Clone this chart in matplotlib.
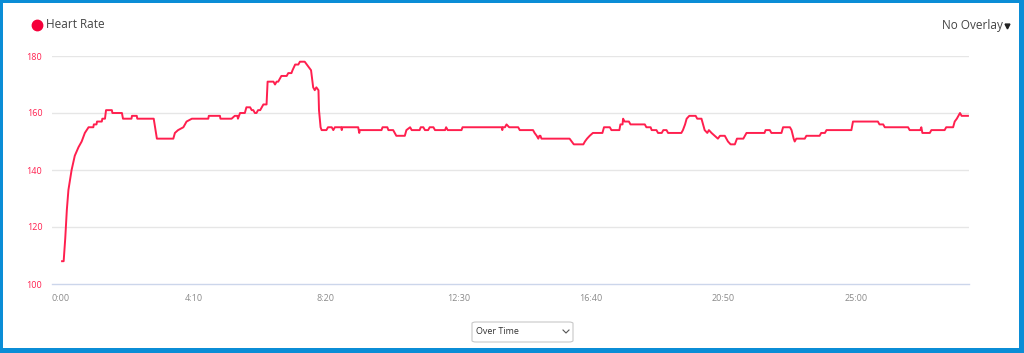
import matplotlib.pyplot as plt
from matplotlib.patches import Rectangle, FancyBboxPatch
from matplotlib.lines import Line2D

# heart rate samples: elapsed seconds and bpm
seconds = [2, 5, 8, 11, 14, 20, 26, 33, 39, 45, 52, 61, 62, 67, 68, 77, 78, 83, 85, 96,
           97, 115, 117, 133, 134, 143, 144, 175, 181, 212, 215, 221, 231, 237, 247, 278,
           279, 300, 301, 322, 328, 333, 334, 338, 347, 350, 357,
           360, 363, 366, 369, 372, 376, 379, 382, 388, 390, 401, 404, 407, 410, 413, 416,
           426, 429, 435, 437, 442, 448, 451, 460, 464, 468, 472, 476, 479, 482, 486, 487,
           490, 492, 501, 504, 511, 514, 517, 526, 529, 530, 531, 561, 563, 564, 605, 607,
           616, 618, 627, 630, 633, 649, 652, 659, 662, 677, 679, 684, 687, 693, 696, 703,
           706, 725, 727, 730, 734,
           756, 758, 832, 833, 834, 838, 841, 846, 863, 866, 891, 894, 898, 901, 903, 905,
           907, 910, 960, 964, 968, 986, 989, 993, 998, 1004, 1022, 1025, 1036, 1039, 1054,
           1056, 1060, 1061, 1064, 1072, 1075, 1102, 1105, 1111,
           1113, 1115, 1124, 1127, 1134, 1137, 1143, 1146, 1171, 1174, 1178, 1181, 1186,
           1198, 1201, 1209, 1212, 1215, 1220, 1223, 1228, 1234, 1240, 1244, 1253, 1256,
           1259, 1264, 1272, 1276, 1288, 1291, 1294, 1328, 1330, 1338, 1341, 1360, 1363,
           1376, 1379, 1383, 1385, 1388, 1404, 1407, 1432, 1435, 1442, 1445, 1489,
           1492, 1495, 1542, 1545, 1552, 1555, 1599, 1602, 1622, 1624, 1626, 1640, 1643,
           1668, 1671, 1684, 1687, 1691, 1697, 1700, 1712]
bpm = [108, 108, 116, 126, 133, 140, 145, 148, 150, 153, 155, 155, 156, 156, 157, 157, 158, 158, 161, 161,
       160, 160, 158, 158, 159, 159, 158, 158, 151, 151, 153, 154, 155, 157, 158, 158,
       159, 159, 158, 158, 159, 159, 158, 160, 160, 162, 162,
       161, 161, 160, 160, 161, 161, 162, 163, 163, 171, 171, 170, 171, 171, 172, 173,
       173, 174, 174, 175, 177, 177, 178, 178, 177, 176, 175, 169, 168, 169, 168, 161,
       155, 154, 154, 155, 155, 154, 155, 155, 155, 154, 155, 155, 153, 154, 154, 155,
       155, 154, 154, 153, 152, 152, 154, 155, 154, 154, 155, 155, 154, 154, 155, 155,
       154, 154, 155, 154, 154,
       154, 155, 155, 154, 155, 155, 156, 155, 155, 154, 154, 153, 152, 151, 152, 152,
       151, 151, 151, 150, 149, 149, 150, 151, 152, 153, 153, 155, 155, 154, 154,
       156, 156, 158, 157, 157, 156, 156, 155, 155,
       155, 154, 154, 153, 153, 154, 154, 153, 153, 154, 156, 158, 159,
       159, 158, 158, 156, 154, 153, 154, 153, 152, 151, 152, 152, 151,
       150, 149, 149, 151, 151, 152, 153, 153, 154, 154, 153, 153, 155,
       155, 154, 151, 150, 151, 151, 152, 152, 153, 153, 154, 154,
       154, 157, 157, 156, 156, 155, 155, 154, 154, 155, 153, 153, 154,
       154, 155, 155, 157, 158, 160, 159, 159]

yticks = [100, 120, 140, 160, 180]
xticks = [0, 250, 500, 750, 1000, 1250, 1500]
xlabels = ["0:00", "4:10", "8:20", "12:30", "16:40", "20:50", "25:00"]

red = '#ff1f4e'
font = ['Open Sans', 'DejaVu Sans']

fig = plt.figure(figsize=(10.24, 3.53), dpi=100)
fig.patch.set_facecolor('#0b8dd6')
bg = Rectangle((3 / 1024, 5 / 353), 1016 / 1024, 345 / 353,
               transform=fig.transFigure, facecolor='white', edgecolor='none', zorder=-5)
fig.patches.append(bg)

ax = fig.add_axes([52 / 1024, 69 / 353, 917 / 1024, 228 / 353])
ax.set_facecolor('none')
ax.plot(seconds, bpm, color=red, lw=1.4, solid_joinstyle='round', zorder=3)

ax.set_xlim(-17, 1714)
ax.set_ylim(100, 180)
ax.set_yticks(yticks)
ax.set_xticks(xticks)
ax.set_xticklabels(xlabels)
for v in yticks[1:]:
    ax.axhline(v, color='#e6e6e6', lw=1, zorder=1)
for s in ['top', 'right', 'left']:
    ax.spines[s].set_visible(False)
ax.spines['bottom'].set_color('#ccd6eb')
ax.spines['bottom'].set_linewidth(1)
ax.tick_params(axis='both', length=0)
ax.tick_params(axis='y', colors=red, pad=7, labelsize=6.5)
ax.tick_params(axis='x', colors='#8a8a8a', pad=7, labelsize=6.5)
for lab in ax.get_xticklabels() + ax.get_yticklabels():
    lab.set_family(font)

# header
fig.lines.append(Line2D([37 / 1024], [1 - 25 / 353], transform=fig.transFigure,
                        marker='o', markersize=7.5, color='#f5003a', lw=0))
fig.text(46 / 1024, 1 - 25 / 353, "Heart Rate", family=font, fontsize=8.5,
         color='#444444', va='center', ha='left')
fig.text(1003 / 1024, 1 - 25 / 353, "No Overlay", family=font, fontsize=8.5,
         color='#444444', va='center', ha='right')
fig.lines.append(Line2D([1007 / 1024], [1 - 26 / 353], transform=fig.transFigure,
                        marker='v', markersize=3.5, color='#222222', lw=0))

# dropdown box
fig.patches.append(FancyBboxPatch((472 / 1024, 1 - 342 / 353), 101 / 1024, 20 / 353,
                                  boxstyle='round,pad=0,rounding_size=0.004',
                                  transform=fig.transFigure, facecolor='white',
                                  edgecolor='#c8c8c8', lw=0.8))
fig.text(476 / 1024, 1 - 331.5 / 353, "Over Time", family=font, fontsize=6.5,
         color='#333333', va='center', ha='left')
fig.lines.append(Line2D([563 / 1024, 566 / 1024, 569 / 1024],
                        [1 - 330 / 353, 1 - 333 / 353, 1 - 330 / 353],
                        transform=fig.transFigure, color='#555555', lw=0.8))

fig.savefig('out.png', dpi=100, facecolor=fig.get_facecolor())
